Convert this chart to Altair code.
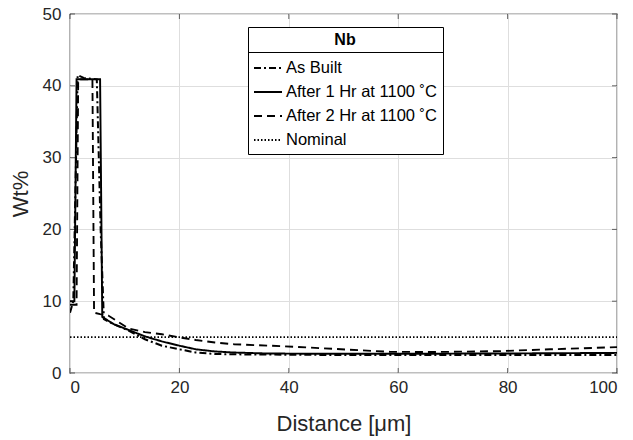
import altair as alt
import pandas as pd

# ---- data ----
series_names = ["As Built", "After 1 Hr at 1100 ˚C", "After 2 Hr at 1100 ˚C", "Nominal"]

as_built_x = [0, 0.6, 1.4, 2.5, 3.5, 4.9, 5.6, 6.2, 8, 10.7, 13.7, 16.8, 20, 23, 26.5, 30, 40, 50, 60, 70, 80, 90, 100]
as_built_y = [8.4, 10, 41.5, 41.1, 41.0, 40.9, 20, 7.5, 6.8, 5.9, 4.7, 3.8, 3.3, 2.85, 2.65, 2.6, 2.55, 2.5, 2.5, 2.5, 2.5, 2.5, 2.5]

hr1_x = [0, 0.8, 1.2, 5.5, 5.9, 8, 10.7, 13.7, 16.8, 20, 23, 26.5, 30, 36, 40, 50, 60, 70, 80, 90, 100]
hr1_y = [10, 10, 40.9, 40.9, 7.8, 6.8, 6.0, 5.1, 4.4, 3.8, 3.3, 3.0, 2.85, 2.72, 2.7, 2.67, 2.67, 2.7, 2.72, 2.76, 2.8]

hr2_x = [0, 1.2, 1.5, 4.1, 4.4, 5.5, 7, 10.7, 13.7, 16.8, 19.7, 23, 26.5, 30, 39, 48, 58.5, 65, 70, 78.6, 87.8, 100]
hr2_y = [9.5, 9.5, 40.9, 40.9, 8.4, 8.2, 8.0, 6.2, 5.7, 5.4, 5.0, 4.6, 4.25, 4.0, 3.73, 3.37, 2.95, 2.92, 2.95, 3.05, 3.3, 3.6]

nominal_x = [0, 100]
nominal_y = [5, 5]

x_ticks = [0, 20, 40, 60, 80, 100]
y_ticks = [0, 10, 20, 30, 40, 50]

rows = []
for name, xs, ys in zip(series_names,
                        [as_built_x, hr1_x, hr2_x, nominal_x],
                        [as_built_y, hr1_y, hr2_y, nominal_y]):
    for i, (xv, yv) in enumerate(zip(xs, ys)):
        rows.append({"series": name, "x": xv, "y": yv, "order": i})
df = pd.DataFrame(rows)

FONT = "Liberation Sans"
W, H = 547, 359

xscale = alt.Scale(domain=[0, 100], nice=False)
yscale = alt.Scale(domain=[0, 50], nice=False)

# legend box background (drawn under the separator; legend itself has no fill)
legend_bg = alt.Chart(pd.DataFrame({"a": [0]})).mark_rect(color="white").encode(
    x=alt.value(178), x2=alt.value(374), y=alt.value(13), y2=alt.value(140))
separator = alt.Chart(pd.DataFrame({"a": [0]})).mark_rule(color="black", strokeWidth=1).encode(
    x=alt.value(178), x2=alt.value(374), y=alt.value(38.5))

lines = alt.Chart(df).mark_line(color="black", clip=True).encode(
    x=alt.X("x:Q", scale=xscale,
            axis=alt.Axis(values=x_ticks, title="Distance [μm]", grid=True,
                          ticks=False, labelPadding=6, titlePadding=18)),
    y=alt.Y("y:Q", scale=yscale,
            axis=alt.Axis(values=y_ticks, title="Wt%", grid=True,
                          ticks=False, labelPadding=9, titlePadding=10)),
    order="order:Q",
    detail="series:N",
    strokeDash=alt.StrokeDash(
        "series:N",
        scale=alt.Scale(domain=series_names,
                        range=[[7, 3, 2, 3], [1, 0], [8, 5], [1.5, 2]]),
        legend=alt.Legend(title="Nb", orient="none", legendX=178, legendY=13,
                          symbolType="stroke", symbolSize=784,
                          symbolStrokeColor="black", symbolStrokeWidth=2,
                          strokeColor="black",
                          padding=5, rowPadding=0, labelOffset=3,
                          titleAnchor="middle", titlePadding=5,
                          titleFontWeight="bold", titleFontSize=16,
                          labelFontSize=16.5, labelFont=FONT, titleFont=FONT,
                          labelColor="black", titleColor="black")),
    strokeWidth=alt.StrokeWidth(
        "series:N",
        scale=alt.Scale(domain=series_names, range=[2, 1.8, 2.8, 1.5]),
        legend=None),
)

xt = pd.DataFrame({"v": x_ticks})
yt = pd.DataFrame({"v": y_ticks})
tick_color = "#262626"
xticks_bottom = alt.Chart(xt).mark_tick(orient="vertical", size=5, thickness=1, color=tick_color).encode(
    x=alt.X("v:Q", scale=xscale), y=alt.value(H - 2.5))
xticks_top = alt.Chart(xt).mark_tick(orient="vertical", size=5, thickness=1, color=tick_color).encode(
    x=alt.X("v:Q", scale=xscale), y=alt.value(2.5))
yticks_left = alt.Chart(yt).mark_tick(orient="horizontal", size=5, thickness=1, color=tick_color).encode(
    y=alt.Y("v:Q", scale=yscale), x=alt.value(2.5))
yticks_right = alt.Chart(yt).mark_tick(orient="horizontal", size=5, thickness=1, color=tick_color).encode(
    y=alt.Y("v:Q", scale=yscale), x=alt.value(W - 2.5))

chart = alt.layer(xticks_bottom, xticks_top, yticks_left, yticks_right,
                  legend_bg, separator, lines).properties(
    width=W, height=H,
    autosize=alt.AutoSizeParams(type="none"),
    padding={"left": 70, "top": 14, "right": 16, "bottom": 67},
    background="white",
).configure_view(
    stroke="black", strokeWidth=1.2
).configure_axis(
    labelFont=FONT, titleFont=FONT, labelFontSize=17, titleFontSize=22,
    labelColor="#262626", titleColor="#262626", titleFontWeight="normal",
    gridColor="#dedede", gridWidth=1, domain=False
)

chart.save("out.html", embed_options={"renderer": "svg", "actions": False})
